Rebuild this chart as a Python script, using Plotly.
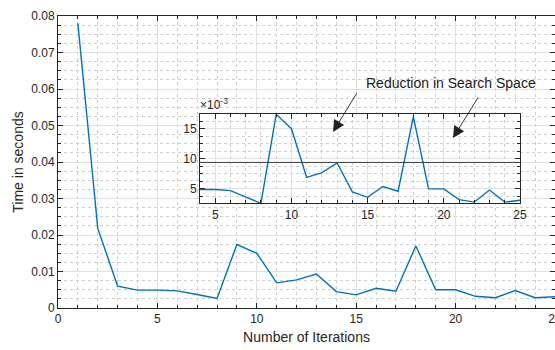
import plotly.graph_objects as go

# ---------------- data ----------------
iterations = list(range(1, 26))
time_seconds = [0.0780, 0.0218, 0.0060, 0.0049, 0.0049, 0.0047, 0.0037, 0.0026,
                0.0174, 0.0150, 0.0069, 0.0077, 0.0093, 0.0045, 0.0036, 0.0054,
                0.0046, 0.0170, 0.0050, 0.0050, 0.0032, 0.0028, 0.0048, 0.0028,
                0.0031]
threshold = 0.0094

main_xticks = [0, 5, 10, 15, 20, 25]
main_yticks = [0, 0.01, 0.02, 0.03, 0.04, 0.05, 0.06, 0.07, 0.08]
main_ytext = ["0", "0.01", "0.02", "0.03", "0.04", "0.05", "0.06", "0.07", "0.08"]
inset_start = 4
inset_xticks = [5, 10, 15, 20, 25]
inset_yticks = [0.005, 0.010, 0.015]
inset_ytext = ["5", "10", "15"]

x_label = "Number of Iterations"
y_label = "Time in seconds"
note_text = "Reduction in Search Space"
exp_text = "×10<sup>-3</sup>"

# ---------------- styling ----------------
FONT = "Liberation Sans, Arial, Helvetica, sans-serif"
AX = "#262626"
BLUE = "#0072BD"
GRID = "#e0e0e0"
MGRID = "#cfcfcf"

W, H = 555, 350
ML, MR, MT, MB = 58, 0, 16, 42

inset_x = [x for x in iterations if x >= inset_start]
inset_y = [y for x, y in zip(iterations, time_seconds) if x >= inset_start]

fig = go.Figure()
fig.add_trace(go.Scatter(x=iterations, y=time_seconds, mode="lines",
                         line=dict(color=BLUE, width=1.4), xaxis="x", yaxis="y",
                         showlegend=False, hoverinfo="skip"))
fig.add_trace(go.Scatter(x=inset_x, y=inset_y, mode="lines",
                         line=dict(color=BLUE, width=1.4), xaxis="x2", yaxis="y2",
                         showlegend=False, hoverinfo="skip"))


def axis_common(**kw):
    d = dict(showline=True, linecolor=AX, linewidth=1, mirror="allticks",
             ticks="inside", ticklen=5, tickcolor=AX, tickwidth=1,
             showgrid=True, gridcolor=GRID, gridwidth=1, zeroline=False,
             automargin=False, ticklabeloverflow="allow",
             tickfont=dict(family=FONT, size=12, color=AX))
    d.update(kw)
    return d


# pixel geometry of inset (in figure pixels)
pw, ph = W - ML - MR, H - MT - MB
ix0, ix1, iy_top, iy_bot = 200, 520, 114.3, 203.3
inset_xdom = [(ix0 - ML) / pw, (ix1 - ML) / pw]
inset_ydom = [(H - MB - iy_bot) / ph, (H - MB - iy_top) / ph]

fig.update_layout(
    width=W, height=H,
    margin=dict(l=ML, r=MR, t=MT, b=MB, pad=0),
    paper_bgcolor="white", plot_bgcolor="white",
    font=dict(family=FONT, color=AX),
    xaxis=axis_common(range=[0, 25], tickvals=main_xticks, domain=[0, 1],
                      minor=dict(dtick=1, tick0=0, ticks="inside", ticklen=3,
                                 tickcolor=AX, showgrid=True, gridcolor=MGRID,
                                 griddash="dot"),
                      title=dict(text=x_label, font=dict(family=FONT, size=14, color=AX),
                                 standoff=6)),
    yaxis=axis_common(range=[0, 0.08], tickvals=main_yticks, ticktext=main_ytext,
                      domain=[0, 1],
                      minor=dict(dtick=0.0025, tick0=0, ticks="inside", ticklen=3,
                                 tickcolor=AX, showgrid=True, gridcolor=MGRID,
                                 griddash="dot"),
                      title=dict(text=y_label, font=dict(family=FONT, size=14, color=AX),
                                 standoff=4)),
    xaxis2=axis_common(range=[inset_start, 25], tickvals=inset_xticks,
                       domain=inset_xdom, anchor="y2",
                       minor=dict(dtick=1, tick0=0, ticks="inside", ticklen=3,
                                  tickcolor=AX, showgrid=True, gridcolor=MGRID,
                                  griddash="dot")),
    yaxis2=axis_common(range=[min(inset_y), max(inset_y)], tickvals=inset_yticks,
                       ticktext=inset_ytext, domain=inset_ydom, anchor="x2",
                       minor=dict(dtick=0.00125, tick0=0, ticks="inside", ticklen=3,
                                  tickcolor=AX, showgrid=True, gridcolor=MGRID,
                                  griddash="dot")),
)

# white background of the inset
fig.add_shape(type="rect", xref="x2 domain", yref="y2 domain", x0=0, x1=1, y0=0, y1=1,
              fillcolor="white", line=dict(width=0), layer="below")
# threshold line
fig.add_shape(type="line", xref="x2 domain", yref="y2", x0=0, x1=1,
              y0=threshold, y1=threshold, line=dict(color="#3a3a3a", width=1))


def px2paper(px, py):
    return (px - ML) / pw, (H - MB - py) / ph


tx, ty = px2paper(451, 83)
fig.add_annotation(xref="paper", yref="paper", x=tx, y=ty, text=note_text,
                   showarrow=False, font=dict(family=FONT, size=14, color="#1a1a1a"),
                   xanchor="center", yanchor="middle")

for (hx, hy), (sx, sy) in [((333, 132), (357.7, 91.7)), ((453, 138), (479, 96))]:
    ax_, ay_ = px2paper(hx, hy)
    fig.add_annotation(xref="paper", yref="paper", x=ax_, y=ay_, text="",
                       showarrow=True, arrowhead=2, arrowsize=2.6, arrowwidth=0.9,
                       arrowcolor="#222222", ax=sx - hx, ay=sy - hy,
                       axref="pixel", ayref="pixel", standoff=0)

ex, ey = px2paper(199, 113)
fig.add_annotation(xref="paper", yref="paper", x=ex, y=ey, text=exp_text,
                   showarrow=False, font=dict(family=FONT, size=12, color=AX),
                   xanchor="left", yanchor="bottom", borderpad=0)

fig.write_html("out.html")
